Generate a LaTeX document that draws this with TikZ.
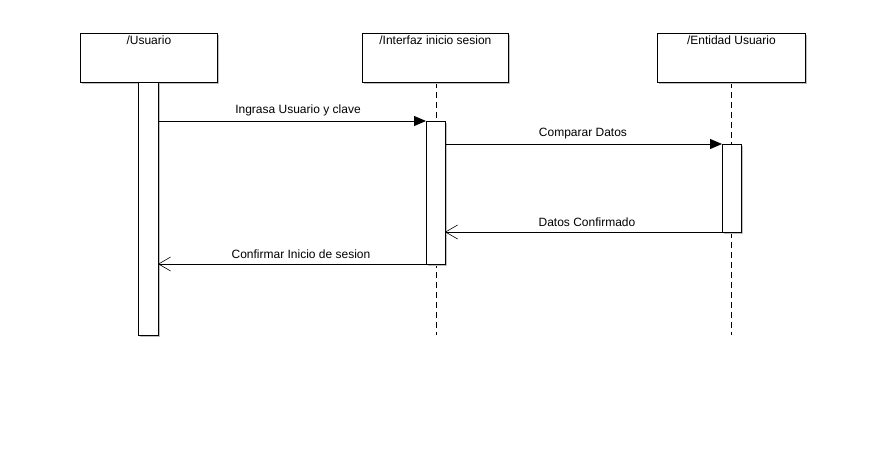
\documentclass[tikz,border=0pt]{standalone}
\usepackage{fontspec}
\setmainfont{Liberation Sans}
\usetikzlibrary{arrows.meta}
\begin{document}
\begin{tikzpicture}[x=1pt,y=-1pt,
  lbl/.style={font=\fontsize{12}{14}\selectfont, inner sep=0pt},
  objbox/.style={draw, line width=0.8pt, fill=white},
  actbar/.style={draw, line width=0.8pt, fill=white},
  shade/.style={fill=black!25, draw=none},
  life/.style={line width=0.8pt, dash pattern=on 6pt off 4pt},
  syncmsg/.style={line width=0.8pt, -{Triangle[length=12pt,width=10pt]}},
  retmsg/.style={line width=0.6pt, -{Straight Barb[length=12pt,width=14pt]}}]
\useasboundingbox (0,0) rectangle (886,464);
% lifelines
\coordinate (l2t) at (436,82); \coordinate (l2b) at (436,335);
\coordinate (l3t) at (731,82); \coordinate (l3b) at (731,335);
\draw[life] (l2t) -- (l2b);
\draw[life] (l3t) -- (l3b);
% object boxes with shadow
\fill[shade] (82,35) rectangle (219,84);
\fill[shade] (364,35) rectangle (510,84);
\fill[shade] (659,35) rectangle (807,84);
\node[objbox, minimum width=137pt, minimum height=49pt, anchor=north west] (u) at (80,33) {};
\node[objbox, minimum width=146pt, minimum height=49pt, anchor=north west] (i) at (362,33) {};
\node[objbox, minimum width=148pt, minimum height=49pt, anchor=north west] (e) at (657,33) {};
\node[lbl, anchor=north] (ut) at ([yshift=-3pt]u.north) {/Usuario};
\node[lbl, anchor=north] (it) at ([yshift=-3pt]i.north) {/Interfaz inicio sesion};
\node[lbl, anchor=north] (et) at ([yshift=-3pt]e.north) {/Entidad Usuario};
% activation bars
\fill[shade] (140,84) rectangle (160,337);
\fill[shade] (428,123) rectangle (447,266);
\fill[shade] (724,146) rectangle (743,234);
\node[actbar, minimum width=20pt, minimum height=253pt, anchor=north west] (a1) at (138,82) {};
\node[actbar, minimum width=19pt, minimum height=143pt, anchor=north west] (a2) at (426,121) {};
\node[actbar, minimum width=19pt, minimum height=88pt, anchor=north west] (a3) at (722,144) {};
% messages
\coordinate (m1s) at (158,121); \coordinate (m1e) at (426,121);
\coordinate (m2s) at (445,144); \coordinate (m2e) at (722,144);
\coordinate (m3s) at (722,232); \coordinate (m3e) at (445,232);
\coordinate (m4s) at (426,264); \coordinate (m4e) at (158,264);
\draw[syncmsg] (m1s) -- (m1e);
\draw[syncmsg] (m2s) -- (m2e);
\draw[retmsg] (m3s) -- (m3e);
\draw[retmsg] (m4s) -- (m4e);
\node[lbl] (t1) at (298,110) {Ingrasa Usuario y clave};
\node[lbl] (t2) at (583,134) {Comparar Datos};
\node[lbl] (t3) at (587,222) {Datos Confirmado};
\node[lbl] (t4) at (301,254) {Confirmar Inicio de sesion};
\end{tikzpicture}
\end{document}
